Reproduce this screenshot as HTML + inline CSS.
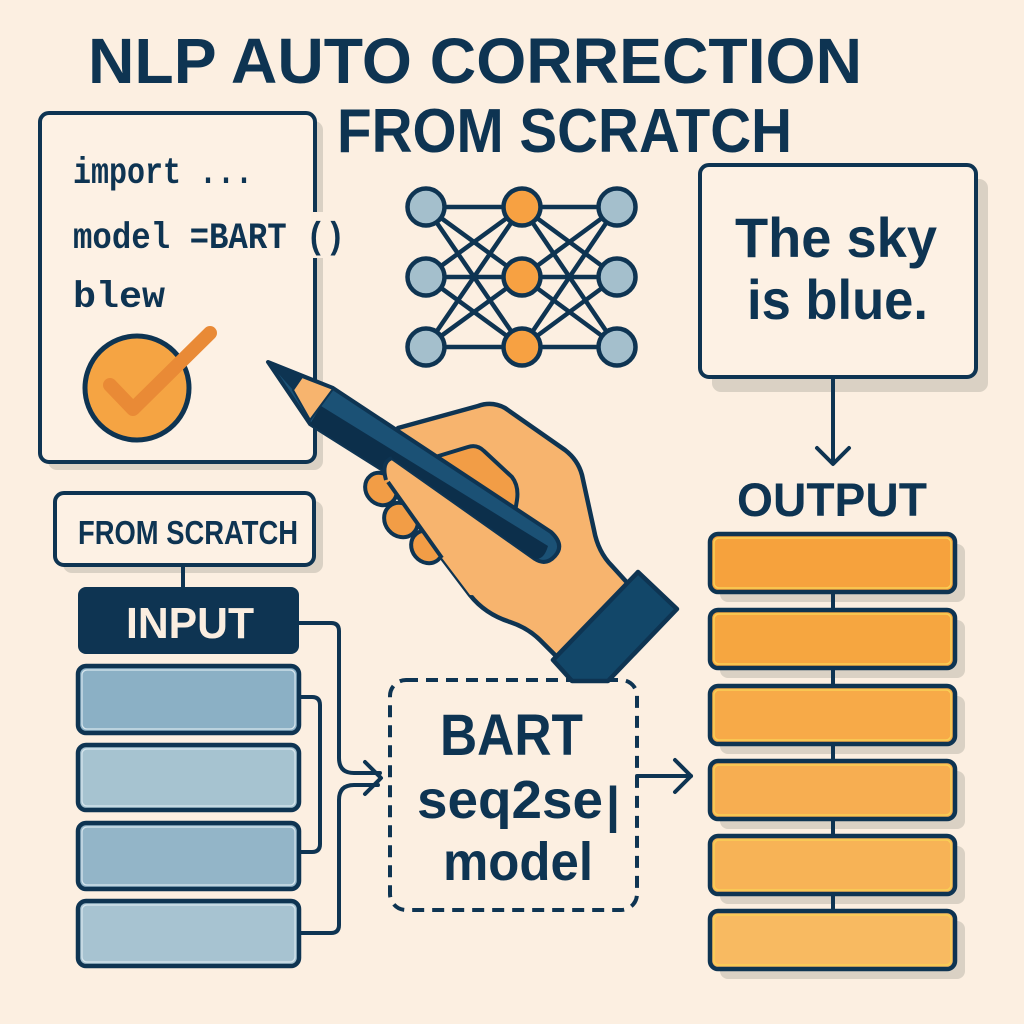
<!DOCTYPE html>
<html>
<head>
<meta charset="utf-8">
<style>
  html,body{margin:0;padding:0;background:#fcefe1;}
  svg{display:block;}
  text{font-family:"Liberation Sans",sans-serif;font-weight:bold;fill:#0e3452;}
  .mono{font-family:"Liberation Mono",monospace;}
</style>
</head>
<body>
<svg width="1024" height="1024" viewBox="0 0 1024 1024" xmlns="http://www.w3.org/2000/svg">
  <rect x="0" y="0" width="1024" height="1024" fill="#fcefe1"/>

  <!-- Title -->
  <text x="88" y="83" font-size="64" textLength="774" lengthAdjust="spacingAndGlyphs">NLP AUTO CORRECTION</text>
  <text x="337" y="152" font-size="62" textLength="455" lengthAdjust="spacingAndGlyphs">FROM SCRATCH</text>

  <!-- Code box -->
  <rect x="48" y="121" width="275" height="349" rx="9" fill="#dad1c4"/>
  <rect x="40" y="113" width="275" height="349" rx="9" fill="#fdf1e4" stroke="#0e3452" stroke-width="4"/>
  <rect x="311" y="212" width="16" height="46" fill="#fcefe1"/>
  <text class="mono" x="73" y="183" font-size="37" textLength="180" lengthAdjust="spacingAndGlyphs">import ...</text>
  <text class="mono" x="73" y="248" font-size="37" textLength="272" lengthAdjust="spacingAndGlyphs">model =BART ()</text>
  <text class="mono" x="73" y="307" font-size="37" textLength="92" lengthAdjust="spacingAndGlyphs">blew</text>
  <!-- check circle -->
  <circle cx="137" cy="388" r="52" fill="#f5a443" stroke="#0e3452" stroke-width="5"/>
  <polyline points="110,385 133,409 210,333" fill="none" stroke="#e98a36" stroke-width="14" stroke-linecap="round" stroke-linejoin="round"/>

  <!-- Neural network -->
  <g stroke="#0e3452" stroke-width="4.5">
    <line x1="426" y1="207" x2="522" y2="207"/><line x1="426" y1="207" x2="522" y2="277"/><line x1="426" y1="207" x2="522" y2="347"/>
    <line x1="426" y1="277" x2="522" y2="207"/><line x1="426" y1="277" x2="522" y2="277"/><line x1="426" y1="277" x2="522" y2="347"/>
    <line x1="426" y1="347" x2="522" y2="207"/><line x1="426" y1="347" x2="522" y2="277"/><line x1="426" y1="347" x2="522" y2="347"/>
    <line x1="522" y1="207" x2="617" y2="207"/><line x1="522" y1="207" x2="617" y2="277"/><line x1="522" y1="207" x2="617" y2="347"/>
    <line x1="522" y1="277" x2="617" y2="207"/><line x1="522" y1="277" x2="617" y2="277"/><line x1="522" y1="277" x2="617" y2="347"/>
    <line x1="522" y1="347" x2="617" y2="207"/><line x1="522" y1="347" x2="617" y2="277"/><line x1="522" y1="347" x2="617" y2="347"/>
  </g>
  <g stroke="#0e3452" stroke-width="4.5">
    <circle cx="426" cy="207" r="18.5" fill="#a4bfcc"/>
    <circle cx="426" cy="277" r="18.5" fill="#a4bfcc"/>
    <circle cx="426" cy="347" r="18.5" fill="#a4bfcc"/>
    <circle cx="522" cy="207" r="18.5" fill="#f7a142"/>
    <circle cx="522" cy="277" r="18.5" fill="#f7a142"/>
    <circle cx="522" cy="347" r="18.5" fill="#f7a142"/>
    <circle cx="617" cy="207" r="18.5" fill="#a4bfcc"/>
    <circle cx="617" cy="277" r="18.5" fill="#a4bfcc"/>
    <circle cx="617" cy="347" r="18.5" fill="#a4bfcc"/>
  </g>

  <!-- Sky box -->
  <rect x="712" y="179" width="276" height="213" rx="9" fill="#dad1c4"/>
  <rect x="700" y="165" width="276" height="212" rx="9" fill="#fdf1e4" stroke="#0e3452" stroke-width="4"/>
  <text x="735" y="257" font-size="56" textLength="202" lengthAdjust="spacingAndGlyphs">The sky</text>
  <text x="747" y="319" font-size="56" textLength="181" lengthAdjust="spacingAndGlyphs">is blue.</text>
  <line x1="833" y1="377" x2="833" y2="463" stroke="#0e3452" stroke-width="4"/>
  <polyline points="817,448 833,464 849,448" fill="none" stroke="#0e3452" stroke-width="4" stroke-linecap="round" stroke-linejoin="round"/>

  <!-- OUTPUT -->
  <text x="737" y="516" font-size="47" textLength="190" lengthAdjust="spacingAndGlyphs">OUTPUT</text>
  <g>
    <rect x="720" y="544" width="245" height="58" rx="8" fill="#dad1c4"/>
    <rect x="720" y="620" width="245" height="58" rx="8" fill="#dad1c4"/>
    <rect x="720" y="696" width="245" height="58" rx="8" fill="#dad1c4"/>
    <rect x="720" y="771" width="245" height="58" rx="8" fill="#dad1c4"/>
    <rect x="720" y="846" width="245" height="58" rx="8" fill="#dad1c4"/>
    <rect x="720" y="921" width="245" height="58" rx="8" fill="#dad1c4"/>
  </g>
  <line x1="833" y1="590" x2="833" y2="915" stroke="#0e3452" stroke-width="4"/>
  <g stroke="#0e3452" stroke-width="4.5">
    <rect x="710" y="534" width="245" height="58" rx="8" fill="#f6a23d"/>
    <rect x="710" y="610" width="245" height="58" rx="8" fill="#f6a640"/>
    <rect x="710" y="686" width="245" height="58" rx="8" fill="#f7aa48"/>
    <rect x="710" y="761" width="245" height="58" rx="8" fill="#f7ae51"/>
    <rect x="710" y="836" width="245" height="58" rx="8" fill="#f7b356"/>
    <rect x="710" y="911" width="245" height="58" rx="8" fill="#f8ba61"/>
  </g>
  <g fill="none" stroke="#f9cf55" stroke-width="1.5">
    <rect x="714" y="538" width="237" height="50" rx="5"/>
    <rect x="714" y="614" width="237" height="50" rx="5"/>
    <rect x="714" y="690" width="237" height="50" rx="5"/>
    <rect x="714" y="765" width="237" height="50" rx="5"/>
    <rect x="714" y="840" width="237" height="50" rx="5"/>
    <rect x="714" y="915" width="237" height="50" rx="5"/>
  </g>

  <!-- FROM SCRATCH label -->
  <rect x="63" y="501" width="260" height="72" rx="9" fill="#dad1c4"/>
  <rect x="55" y="493" width="259" height="72" rx="9" fill="#fdf1e4" stroke="#0e3452" stroke-width="4"/>
  <text x="78" y="544" font-size="33" textLength="220" lengthAdjust="spacingAndGlyphs">FROM SCRATCH</text>
  <line x1="183" y1="565" x2="183" y2="588" stroke="#0e3452" stroke-width="4"/>

  <!-- INPUT -->
  <rect x="78" y="587" width="221" height="67" rx="8" fill="#0e3452"/>
  <text x="126" y="638" font-size="44" textLength="128" lengthAdjust="spacingAndGlyphs" style="fill:#fbeee0">INPUT</text>
  <g stroke="#0e3452" stroke-width="4.5">
    <rect x="78" y="666" width="221" height="67" rx="8" fill="#8bb0c5"/>
    <rect x="78" y="745" width="221" height="65" rx="8" fill="#a6c3d0"/>
    <rect x="78" y="823" width="221" height="66" rx="8" fill="#93b5c8"/>
    <rect x="78" y="901" width="221" height="65" rx="8" fill="#a7c3d1"/>
  </g>
  <g fill="none" stroke="#d7e6ee" stroke-width="1.2">
    <rect x="82" y="670" width="213" height="59" rx="5"/>
    <rect x="82" y="749" width="213" height="57" rx="5"/>
    <rect x="82" y="827" width="213" height="58" rx="5"/>
    <rect x="82" y="905" width="213" height="57" rx="5"/>
  </g>

  <!-- connectors -->
  <g fill="none" stroke="#0e3452" stroke-width="4" stroke-linejoin="round" stroke-linecap="round">
    <path d="M299,623 L331,623 Q339,623 339,631 L339,758 Q339,773 354,773 L380,773"/>
    <path d="M299,697 L312,697 Q320,697 320,705 L320,844 Q320,852 312,852 L299,852"/>
    <path d="M299,933 L331,933 Q339,933 339,925 L339,800 Q339,785 354,785 L378,785"/>
    <polyline points="365,762 381,778 365,794"/>
    <path d="M637,776 L691,776"/>
    <polyline points="675,760 691,776 675,792"/>
  </g>

  <!-- BART box -->
  <rect x="390" y="680" width="247" height="230" rx="16" fill="none" stroke="#0e3452" stroke-width="4" stroke-dasharray="12 8"/>
  <text x="440" y="755" font-size="58" textLength="143" lengthAdjust="spacingAndGlyphs">BART</text>
  <text x="417" y="818" font-size="54" textLength="186" lengthAdjust="spacingAndGlyphs">seq2se</text>
  <text x="606" y="822" font-size="50">|</text>
  <text x="443" y="880" font-size="54" textLength="150" lengthAdjust="spacingAndGlyphs">model</text>

  <!-- Hand -->
  <path d="M398,428 L478,406 Q492,401 505,408 L565,450 Q578,460 582,475 L594,530 Q598,552 612,566 L632,588 L560,660 L540,640 Q528,628 510,622 Q485,614 470,595 L442,558 L386,480 Q378,466 390,458 Z" fill="#f7b46e" stroke="#0e3452" stroke-width="4.5" stroke-linejoin="round"/>
  <!-- fingers -->
  <g fill="#f29d46" stroke="#0e3452" stroke-width="4">
    <ellipse cx="381" cy="489" rx="15" ry="17" transform="rotate(-40 381 489)"/>
    <ellipse cx="401" cy="520" rx="16" ry="18" transform="rotate(-40 401 520)"/>
    <ellipse cx="427" cy="547" rx="15" ry="17" transform="rotate(-40 427 547)"/>
  </g>
  <!-- thumb cover -->
  <path d="M392,460 L450,500 L540,562 L560,600 L470,595 L442,558 L388,482 Q381,468 392,460 Z" fill="#f7b46e"/>
  <path d="M388,482 L442,558" fill="none" stroke="#0e3452" stroke-width="4"/>
  <!-- index finger above pencil -->
  <path d="M432,458 L468,447 Q477,444 484,451 L512,477 Q519,486 517,500 L515,512 L440,462 Z" fill="#f29d46" stroke="#0e3452" stroke-width="4" stroke-linejoin="round"/>

  <!-- Pencil -->
  <path d="M268,362 L333,388 L551,532 Q565,545 555,556 Q546,566 535,559 L392,458 Q383,461 383,470 L310,424 Z" fill="#1b5175" stroke="#0e3452" stroke-width="4" stroke-linejoin="round"/>
  <path d="M321,406 L548,546 Q544,560 535,559 L392,458 Q383,461 383,470 L310,424 Z" fill="#0c2f4b"/>
  <polygon points="293,390 302,377 333,389 310,420" fill="#f7b46e" stroke="#0e3452" stroke-width="2"/>
  <polygon points="268,362 302,377 293,390" fill="#0e3452"/>
  <path d="M392,458 Q381,462 386,480" fill="none" stroke="#0e3452" stroke-width="4"/>

  <!-- Cuff -->
  <polygon points="638,572 677,609 608,681 572,681 553,660" fill="#124769" stroke="#0e3452" stroke-width="4.5" stroke-linejoin="round"/>
</svg>
</body>
</html>
